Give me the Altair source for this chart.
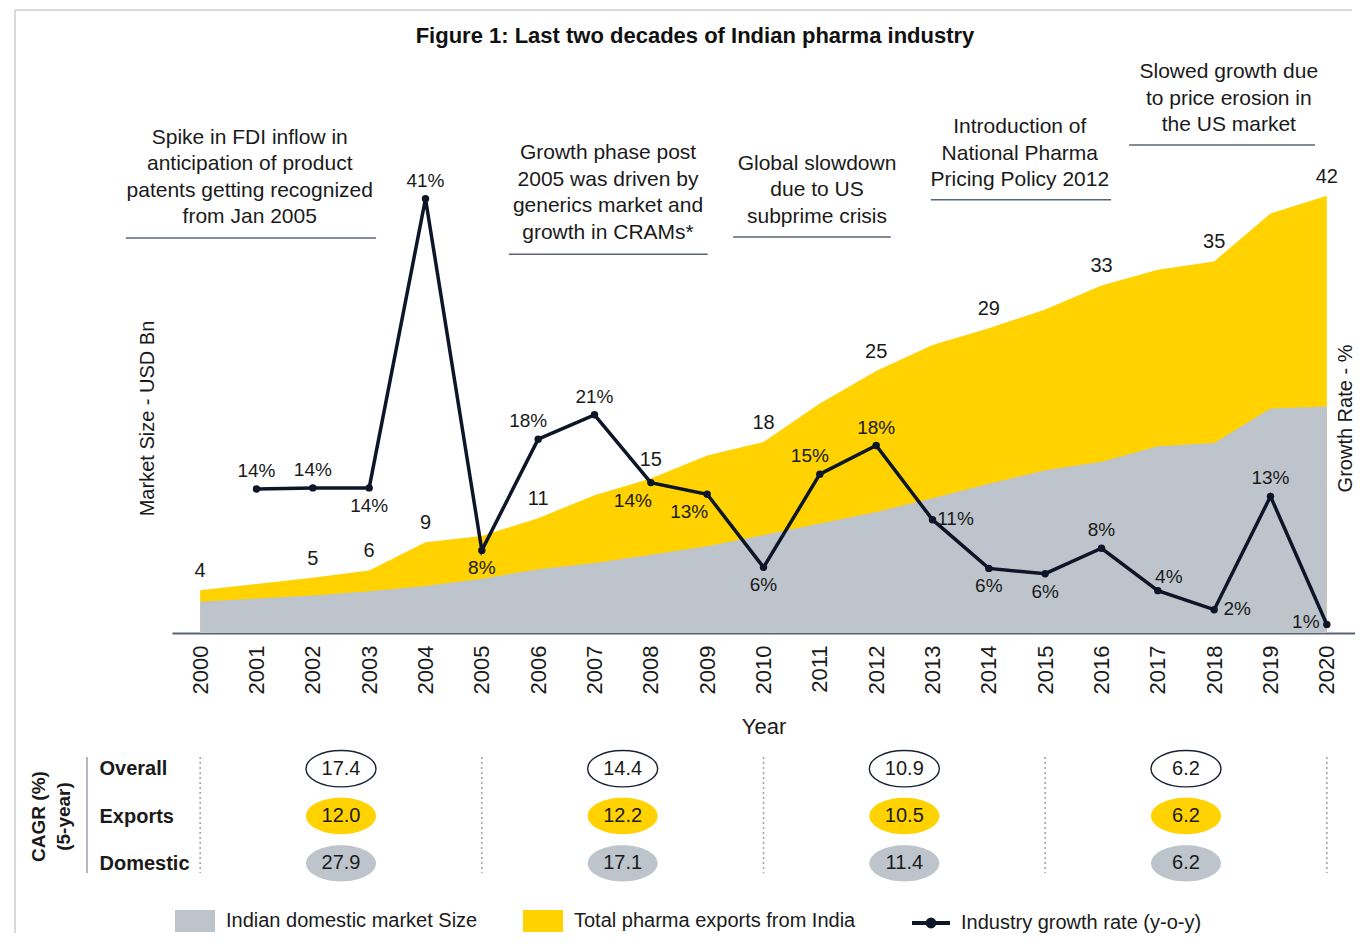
import altair as alt
import pandas as pd

# ---------------- data ----------------
TITLE = "Figure 1: Last two decades of Indian pharma industry"
SERIES_DOM = "Indian domestic market Size"
SERIES_EXP = "Total pharma exports from India"
SERIES_GR = "Industry growth rate (y-o-y)"

years = list(range(2000, 2021))
total_size = [4.1, 4.7, 5.3, 6.0, 8.7, 9.3, 11.0, 13.2, 14.8, 17.0, 18.3,
              22.0, 25.1, 27.6, 29.2, 31.0, 33.3, 34.8, 35.6, 40.2, 41.9]
domestic_size = [3.0, 3.3, 3.6, 4.0, 4.5, 5.2, 6.1, 6.7, 7.5, 8.3, 9.4,
                 10.5, 11.6, 12.9, 14.3, 15.6, 16.4, 17.9, 18.2, 21.5, 21.7]
total_labels = ["4", "", "5", "6", "9", "", "11", "", "15", "", "18",
                "", "25", "", "29", "", "33", "", "35", "", "42"]

growth_years = list(range(2001, 2021))
growth_rate = [13.6, 13.7, 13.7, 41.0, 7.8, 18.3, 20.6, 14.2, 13.1, 6.2,
               15.0, 17.7, 10.7, 6.1, 5.6, 8.0, 4.0, 2.2, 12.9, 0.8]
growth_labels = ["14%", "14%", "14%", "41%", "8%", "18%", "21%", "14%", "13%", "6%",
                 "15%", "18%", "11%", "6%", "6%", "8%", "4%", "2%", "13%", "1%"]
growth_label_side = ["above", "above", "below", "above", "below", "aboveleft", "above",
                     "belowleft", "belowleft", "below", "aboveleft", "above", "right",
                     "below", "below", "above", "aboveright", "right", "above", "left"]

period_mid = [2002.5, 2007.5, 2012.5, 2017.5]
period_bounds = [2000, 2005, 2010, 2015, 2020]
cagr_rows = ["Overall", "Exports", "Domestic"]
cagr_overall = [17.4, 14.4, 10.9, 6.2]
cagr_exports = [12.0, 12.2, 10.5, 6.2]
cagr_domestic = [27.9, 17.1, 11.4, 6.2]

notes = [
    "Spike in FDI inflow in\nanticipation of product\npatents getting recognized\nfrom Jan 2005",
    "Growth phase post\n2005 was driven by\ngenerics market and\ngrowth in CRAMs*",
    "Global slowdown\ndue to US\nsubprime crisis",
    "Introduction of\nNational Pharma\nPricing Policy 2012",
    "Slowed growth due\nto price erosion in\nthe US market",
]
note_x = [2000.88, 2007.24, 2010.95, 2014.55, 2018.26]
note_top = [48.5, 47.0, 46.0, 49.5, 54.8]
note_line_y = [37.85, 36.3, 37.95, 41.5, 46.75]
note_line_x1 = [1998.68, 2005.48, 2009.46, 2012.97, 2016.49]
note_line_x2 = [2003.12, 2009.01, 2012.26, 2016.17, 2019.79]

# ---------------- styles ----------------
FONT = "Liberation Sans"
YELLOW = "#FFD200"
GRAY = "#BEC4CB"
NAVY = "#0D1628"
TEXT = "#1A1A1A"
RULE = "#5B6474"
FRAME = "#C8CDD3"
DOTS = "#9BA1A9"
W, H = 1183, 430
TH = 142

x_scale = alt.Scale(domain=[1999.5, 2020.5], nice=False, zero=False)
m_scale = alt.Scale(domain=[0, 41.2], nice=False, zero=True)
g_scale = alt.Scale(domain=[0, 40.6], nice=False, zero=True)

x_axis = alt.Axis(values=years, format="d", labelAngle=270, labelFontSize=22,
                  labelPadding=12, labelColor=TEXT, labelFlush=False, labelOverlap=False,
                  ticks=False, grid=False, domainColor=RULE, domainWidth=2,
                  title="Year", titleFontSize=22, titleFontWeight="normal",
                  titleColor=TEXT, titlePadding=23)
x_main = alt.X("year:Q", scale=x_scale, axis=x_axis)
x_note = alt.X("x1:Q", scale=x_scale, axis=x_axis)

m_axis = alt.Axis(title="Market Size - USD Bn", labels=False, ticks=False, domain=False,
                  grid=False, minExtent=0, titleX=-25, titleY=H / 2, titleAngle=270,
                  titleBaseline="middle", titleAlign="center", titleFontSize=20,
                  titleFontWeight="normal", titleColor=TEXT)
y_market = alt.Y("value:Q", scale=m_scale, stack=None, axis=m_axis)

g_axis = alt.Axis(orient="right", title="Growth Rate - %", labels=False, ticks=False,
                  domain=False, grid=False, minExtent=0, titleX=-10, titleY=H / 2,
                  titleAngle=270, titleBaseline="middle", titleAlign="center",
                  titleFontSize=20, titleFontWeight="normal", titleColor=TEXT)
y_growth = alt.Y("growth:Q", scale=g_scale, axis=g_axis)

color_enc = alt.Color(
    "series:N", scale=alt.Scale(domain=[SERIES_DOM, SERIES_EXP], range=[GRAY, YELLOW]),
    legend=alt.Legend(orient="none", legendX=3, legendY=698, direction="horizontal",
                      title=None, symbolType="M-1,-0.55H1V0.55H-1Z", symbolSize=1600,
                      symbolStrokeWidth=0, symbolOpacity=1, labelFontSize=20,
                      labelColor=TEXT, labelOffset=11, labelLimit=600,
                      columnPadding=45, padding=0))
stroke_enc = alt.Stroke(
    "series:N", scale=alt.Scale(domain=[SERIES_GR], range=[NAVY]),
    legend=alt.Legend(orient="none", legendX=738, legendY=699, direction="horizontal",
                      title=None,
                      symbolType="M-1,0H1M0.18,0A0.18,0.18,0,1,1,-0.18,0A0.18,0.18,0,1,1,0.18,0",
                      symbolSize=1444, symbolStrokeWidth=4, symbolFillColor=NAVY,
                      labelFontSize=20, labelColor=TEXT, labelOffset=9,
                      labelLimit=600, padding=0))

df_total = pd.DataFrame({"year": years, "value": total_size, "series": SERIES_EXP,
                         "label": total_labels})
df_dom = pd.DataFrame({"year": years, "value": domestic_size, "series": SERIES_DOM})
df_g = pd.DataFrame({"year": growth_years, "growth": growth_rate, "label": growth_labels,
                     "side": growth_label_side, "series": SERIES_GR})
df_notes = pd.DataFrame({"year": note_x, "value": note_top, "text": notes})
df_lines = pd.DataFrame({"x1": note_line_x1, "x2": note_line_x2, "value": note_line_y})
one = pd.DataFrame({"k": [0]})

area_total = alt.Chart(df_total).mark_area(opacity=1).encode(
    x=x_main, y=y_market, color=color_enc)
area_dom = alt.Chart(df_dom).mark_area(opacity=1).encode(
    x=x_main, y=y_market, color=color_enc)
total_text = alt.Chart(df_total).mark_text(dy=-19, fontSize=20, color=TEXT).encode(
    x=x_main, y=y_market, text="label:N")
note_text = alt.Chart(df_notes).mark_text(
    lineBreak="\n", lineHeight=26.5, baseline="top", align="center",
    fontSize=21, color=TEXT).encode(x=x_main, y=y_market, text="text:N")
note_rules = alt.Chart(df_lines).mark_rule(color=RULE, strokeWidth=1.5).encode(
    x=x_note, x2="x2:Q", y=y_market)
title_text = alt.Chart(one).mark_text(
    text=TITLE, fontSize=22, fontWeight="bold", align="center", baseline="middle",
    color="#111111").encode(x=alt.value(523), y=alt.value(-167))
frame_top = alt.Chart(one).mark_rule(color=FRAME, strokeWidth=1.5).encode(
    x=alt.value(-157), x2=alt.value(1180), y=alt.value(-193))
frame_left = alt.Chart(one).mark_rule(color=FRAME, strokeWidth=1.5).encode(
    x=alt.value(-157), y=alt.value(-193), y2=alt.value(730))

market = alt.layer(area_total, area_dom, total_text, note_rules, note_text,
                   title_text, frame_top, frame_left)

g_line = alt.Chart(df_g).mark_line(strokeWidth=3.5).encode(
    x=x_main, y=y_growth, stroke=stroke_enc)
g_pts = alt.Chart(df_g).mark_circle(size=55, color=NAVY, opacity=1).encode(
    x=x_main, y=y_growth)

offsets = {"above": (0, -18), "below": (0, 18), "aboveleft": (-10, -18),
           "belowleft": (-18, 18), "right": (23, -1), "aboveright": (11, -14),
           "left": (-21, -3)}
g_labels = []
for side, (ddx, ddy) in offsets.items():
    g_labels.append(
        alt.Chart(df_g).transform_filter(alt.datum.side == side)
        .mark_text(dx=ddx, dy=ddy, fontSize=19, color=TEXT)
        .encode(x=x_main, y=y_growth, text="label:N"))

growth = alt.layer(g_line, g_pts, *g_labels)

main = alt.layer(market, growth).resolve_scale(y="independent").properties(
    width=W, height=H)

# ---------------- CAGR table ----------------
df_cagr = pd.DataFrame({
    "mid": period_mid * 3,
    "row": [cagr_rows[0]] * 4 + [cagr_rows[1]] * 4 + [cagr_rows[2]] * 4,
    "val": cagr_overall + cagr_exports + cagr_domestic,
})
x_tab = alt.X("mid:Q", scale=x_scale, axis=None)
y_row = alt.Y(
    "row:N", scale=alt.Scale(domain=cagr_rows, paddingInner=0, paddingOuter=0),
    axis=alt.Axis(title=["CAGR (%)", "(5-year)"], titleAngle=270, titleFontSize=19,
                  titleFontWeight="bold", titleColor=TEXT, titleX=-143, titleY=TH / 2,
                  titleBaseline="top", titleAlign="center", titleLineHeight=25,
                  labelAlign="left", labelPadding=73, labelFontSize=20,
                  labelFontWeight="bold", labelColor=TEXT, labelBaseline="middle",
                  ticks=False, tickSize=0, domain=False, grid=False, minExtent=0))

ELLIPSE = "M-1,0A1,0.52,0,1,1,1,0A1,0.52,0,1,1,-1,0Z"
dotted = alt.Chart(pd.DataFrame({"year": period_bounds})).mark_rule(
    strokeDash=[2, 3], color=DOTS, strokeWidth=1.5).encode(
    x=alt.X("year:Q", scale=x_scale, axis=None), y=alt.value(12), y2=alt.value(128))
solid = alt.Chart(one).mark_rule(color=DOTS, strokeWidth=1.5).encode(
    x=alt.value(-85), y=alt.value(12), y2=alt.value(128))
base = alt.Chart(df_cagr)
e_over = base.transform_filter(alt.datum.row == "Overall").mark_point(
    shape=ELLIPSE, size=4900, filled=True, fill="#FFFFFF", stroke="#1A2233",
    strokeWidth=1.4, opacity=1).encode(x=x_tab, y=y_row)
e_exp = base.transform_filter(alt.datum.row == "Exports").mark_point(
    shape=ELLIPSE, size=4900, filled=True, fill=YELLOW, strokeWidth=0,
    opacity=1).encode(x=x_tab, y=y_row)
e_dom = base.transform_filter(alt.datum.row == "Domestic").mark_point(
    shape=ELLIPSE, size=4900, filled=True, fill=GRAY, strokeWidth=0,
    opacity=1).encode(x=x_tab, y=y_row)
e_txt = base.mark_text(fontSize=20, color=TEXT).encode(
    x=x_tab, y=y_row, text=alt.Text("val:Q", format=".1f"))

table = alt.layer(dotted, solid, e_over, e_exp, e_dom, e_txt).properties(
    width=W, height=TH)

chart = alt.vconcat(main, table, spacing=112, bounds="flush").resolve_scale(
    color="independent", stroke="independent").properties(
    padding={"left": 6, "top": 1, "right": 0, "bottom": 0},
    background="white").configure(font=FONT).configure_view(stroke=None)

chart.save("out.html", embed_options={"renderer": "svg", "actions": False})
